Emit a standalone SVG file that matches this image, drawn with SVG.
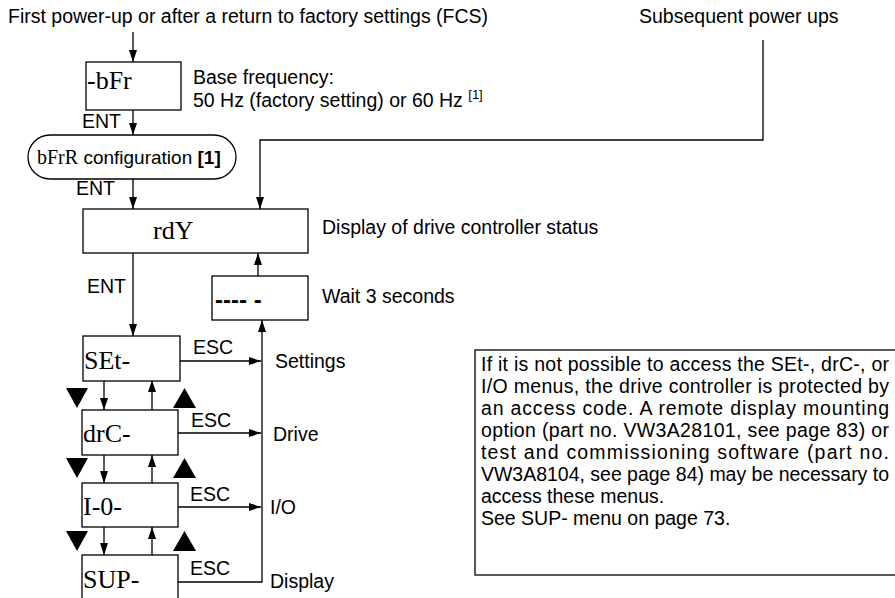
<svg xmlns="http://www.w3.org/2000/svg" width="895" height="598" viewBox="0 0 895 598">
<style>
.t{font-family:"Liberation Sans",Arial,sans-serif;font-size:19.5px;fill:#000}
.s{font-family:"Liberation Serif","Times New Roman",serif;font-size:26px;fill:#000}
.box{fill:#fff;stroke:#000;stroke-width:1.3}
.ln{fill:none;stroke:#000;stroke-width:1.3}
.tri{fill:#000}
</style>
<defs>
<marker id="ah" viewBox="0 0 12 8" refX="12" refY="4" markerWidth="12" markerHeight="8" orient="auto" markerUnits="userSpaceOnUse"><path d="M0,0 L12,4 L0,8 z" fill="#000"/></marker>
</defs>
<rect width="895" height="598" fill="#fff"/>
<text class="t" x="8" y="23">First power-up or after a return to factory settings (FCS)</text>
<text class="t" x="639" y="23">Subsequent power ups</text>

<g id="connectors">
<path class="ln" d="M133,32 V62" marker-end="url(#ah)"/>
<path class="ln" d="M133,110 V135" marker-end="url(#ah)"/>
<path class="ln" d="M133,179 V209" marker-end="url(#ah)"/>
<path class="ln" d="M763,40 V140 H260 V209" marker-end="url(#ah)"/>
<path class="ln" d="M258,276 V253" marker-end="url(#ah)"/>
<path class="ln" d="M133,253 V336" marker-end="url(#ah)"/>
<path class="ln" d="M180,361 H261" marker-end="url(#ah)"/>
<path class="ln" d="M178,433 H261" marker-end="url(#ah)"/>
<path class="ln" d="M178,507 H261" marker-end="url(#ah)"/>
<path class="ln" d="M178,582 H262 V320" marker-end="url(#ah)"/>
<path class="ln" d="M104,380 V410" marker-end="url(#ah)"/>
<path class="ln" d="M104,455 V483" marker-end="url(#ah)"/>
<path class="ln" d="M104,527 V555" marker-end="url(#ah)"/>
<path class="ln" d="M152,410 V380" marker-end="url(#ah)"/>
<path class="ln" d="M152,483 V455" marker-end="url(#ah)"/>
<path class="ln" d="M152,555 V527" marker-end="url(#ah)"/>
<polygon class="tri" points="66,388 88,388 77,408"/>
<polygon class="tri" points="173,408 196,408 184.5,388"/>
<polygon class="tri" points="66,458 88,458 77,478"/>
<polygon class="tri" points="173,478 196,478 184.5,458"/>
<polygon class="tri" points="66,531 88,531 77,551"/>
<polygon class="tri" points="173,551 196,551 184.5,531"/>
<text class="t" x="82" y="128">ENT</text>
<text class="t" x="76" y="195">ENT</text>
<text class="t" x="87" y="293">ENT</text>
<text class="t" x="193" y="354">ESC</text>
<text class="t" x="191" y="427">ESC</text>
<text class="t" x="190" y="501">ESC</text>
<text class="t" x="190" y="575">ESC</text>
<text class="t" x="275" y="368">Settings</text>
<text class="t" x="273" y="441">Drive</text>
<text class="t" x="270" y="514">I/O</text>
<text class="t" x="270" y="588">Display</text>
</g>

<g id="bfr">
<rect class="box" x="86" y="62" width="95" height="48"/>
<text class="s" x="87" y="89">-bFr</text>
<text class="t" x="193" y="84">Base frequency:</text>
<text class="t" x="193" y="107">50 Hz (factory setting) or 60 Hz <tspan style="font-size:13px" dy="-8">[1]</tspan></text>
</g>

<g id="bfrr">
<rect class="box" x="28" y="135" width="208" height="44" rx="22" ry="22"/>
<text class="t" x="37" y="164" style="font-size:19px"><tspan style="font-family:'Liberation Serif','Times New Roman',serif;font-size:20px">bFrR</tspan> configuration <tspan style="font-weight:bold">[1]</tspan></text>
</g>

<g id="rdy">
<rect class="box" x="83" y="209" width="225" height="44"/>
<text class="s" x="153" y="239">rdY</text>
<text class="t" x="322" y="234">Display of drive controller status</text>
</g>

<g id="wait">
<rect class="box" x="212" y="276" width="96" height="44"/>
<text class="t" x="215" y="308" style="font-weight:bold;font-size:24px">---- -</text>
<text class="t" x="322" y="303">Wait 3 seconds</text>
</g>

<g id="set">
<rect class="box" x="83" y="336" width="97" height="45"/>
<text class="s" x="84" y="369">SEt-</text>
</g>
<g id="drc">
<rect class="box" x="82" y="410" width="96" height="45"/>
<text class="s" x="83" y="442">drC-</text>
</g>
<g id="io">
<rect class="box" x="82" y="483" width="96" height="44"/>
<text class="s" x="83" y="515">I-0-</text>
</g>
<g id="sup">
<rect class="box" x="82" y="555" width="96" height="60"/>
<text class="s" x="83" y="588">SUP-</text>
</g>

<g id="note">
<rect class="box" x="475" y="350" width="440" height="225"/>
<text class="t" x="481" y="371" textLength="408" lengthAdjust="spacing">If it is not possible to access the SEt-, drC-, or</text>
<text class="t" x="481" y="393" textLength="408" lengthAdjust="spacing">I/O menus, the drive controller is protected by</text>
<text class="t" x="481" y="415" textLength="408" lengthAdjust="spacing">an access code. A remote display mounting</text>
<text class="t" x="481" y="437" textLength="408" lengthAdjust="spacing">option (part no. VW3A28101, see page 83) or</text>
<text class="t" x="481" y="459" textLength="408" lengthAdjust="spacing">test and commissioning software (part no.</text>
<text class="t" x="481" y="481" textLength="408" lengthAdjust="spacing">VW3A8104, see page 84) may be necessary to</text>
<text class="t" x="481" y="503">access these menus.</text>
<text class="t" x="481" y="525">See SUP- menu on page 73.</text>
</g>
</svg>
